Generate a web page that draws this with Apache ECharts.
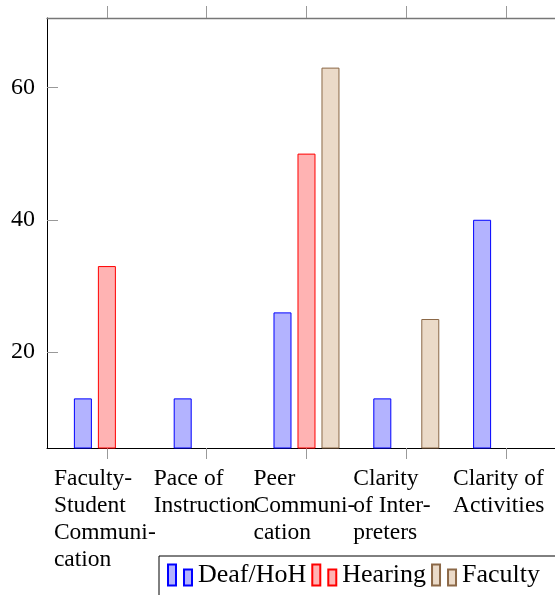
<!DOCTYPE html>
<html><head><meta charset="utf-8">
<script src="https://cdn.jsdelivr.net/npm/echarts@6/dist/echarts.min.js"></script>
<style>html,body{margin:0;padding:0;background:#fff}#c{width:555px;height:595px}</style>
</head><body><div id="c"></div>
<script>
const categories = ['Faculty-Student Communication', 'Pace of Instruction', 'Peer Communication', 'Clarity of Interpreters', 'Clarity of Activities'];
const tickLabels = ['Faculty-\nStudent\nCommuni-\ncation', 'Pace of\nInstruction', 'Peer\nCommuni-\ncation', 'Clarity\nof Inter-\npreters', 'Clarity of\nActivities'];
const seriesNames = ['Deaf/HoH', 'Hearing', 'Faculty'];
const deafHoH = [13, 13, 26, 13, 40];
const hearing = [33, null, 50, null, null];
const faculty = [null, null, 63, 25, null];
const yTicks = [20, 40, 60];

const X_MIN = -0.6, X_MAX = 4.5;
const catIdx = categories.map((_, i) => i);
// axis ends are added so the min/max label logic acts on empty end labels only
const xMarks = [X_MIN].concat(catIdx, [X_MAX]);
function pairs(vals) { return vals.map((v, i) => v == null ? null : [i, v]).filter(p => p); }
const FONT = 'Liberation Serif';
const iconPath = 'path://M0,0L8,0L8,21L0,21Z M16,5L24,5L24,21L16,21Z';
const chart = echarts.init(document.getElementById('c'), null, {renderer: 'canvas'});
const xCommon = {type: 'value', min: X_MIN, max: X_MAX, splitLine: {show: false}};
function bar(name, vals, fill, stroke) {
  return {name: name, type: 'bar', data: pairs(vals), barWidth: 18, barGap: '33.3%',
    itemStyle: {color: fill, borderColor: stroke, borderWidth: 1}};
}
function fmt(v) {
  const i = Math.round(v);
  if (Math.abs(v - i) > 1e-6 || !tickLabels[i]) return '';
  return tickLabels[i].split('\n').map(s => '{l|' + s + '}').join('\n');
}
chart.setOption({
  animation: false,
  grid: {left: 47, top: 18, width: 509, height: 430, containLabel: false, outerBoundsMode: 'none'},
  xAxis: [
    Object.assign({}, xCommon, {position: 'bottom',
      axisLine: {show: true, onZero: false, lineStyle: {color: '#000', width: 1}},
      axisTick: {show: true, inside: false, length: 11, customValues: xMarks, lineStyle: {color: '#999'}},
      axisLabel: {show: true, customValues: xMarks, showMinLabel: false, showMaxLabel: false, hideOverlap: false,
        margin: 17, align: 'center', formatter: fmt,
        rich: {l: {width: 106, align: 'left', fontFamily: FONT, fontSize: 23.5, lineHeight: 27, color: '#000'}}}}),
    Object.assign({}, xCommon, {position: 'top',
      axisLine: {show: true, onZero: false, lineStyle: {color: '#777', width: 1.3}},
      axisTick: {show: true, inside: false, length: 12, customValues: catIdx, lineStyle: {color: '#999'}},
      axisLabel: {show: false}})
  ],
  yAxis: {type: 'value', min: 5.5, max: 70.5, splitLine: {show: false},
    axisLine: {show: true, onZero: false, lineStyle: {color: '#000'}},
    axisTick: {show: true, inside: true, length: 11, customValues: yTicks, lineStyle: {color: '#999'}},
    axisLabel: {customValues: yTicks, margin: 12, fontFamily: FONT, fontSize: 24, color: '#000'}},
  legend: {left: 159, top: 556, width: 440, orient: 'horizontal', itemWidth: 24, itemHeight: 21, itemGap: 5,
    padding: [6, 30, 20, 8], borderColor: '#000', borderWidth: 1, icon: iconPath, selectedMode: false,
    textStyle: {fontFamily: FONT, fontSize: 26, color: '#000', padding: [0, 0, 0, 1]},
    data: seriesNames},
  series: [
    bar(seriesNames[0], deafHoH, '#b3b3ff', '#0000ff'),
    bar(seriesNames[1], hearing, '#ffb3b3', '#ff0000'),
    bar(seriesNames[2], faculty, '#ebdac8', '#8b6847')
  ]
});
</script></body></html>
